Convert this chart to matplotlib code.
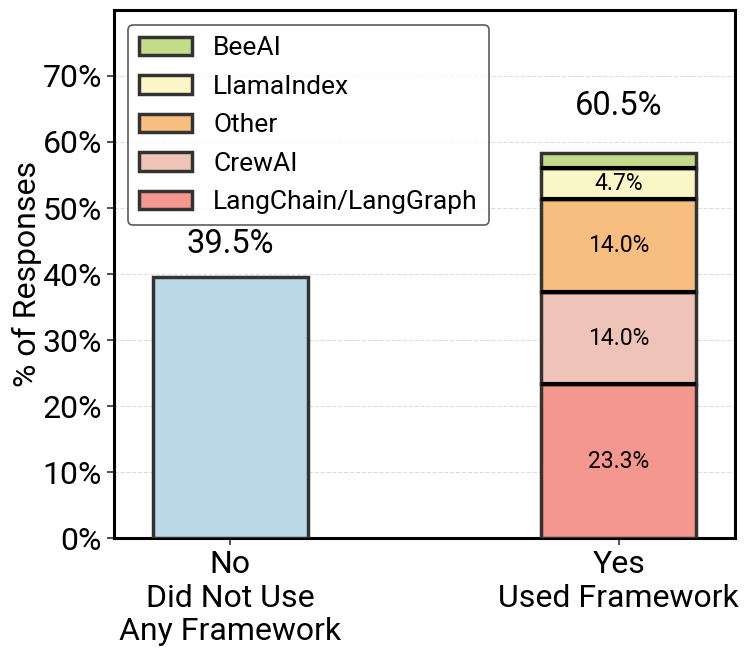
import numpy as np
import matplotlib
matplotlib.use("Agg")
import matplotlib.pyplot as plt

plt.rcParams["font.family"] = ["Roboto", "DejaVu Sans"]

# ---- data ----
categories = ["No\nDid Not Use\nAny Framework", "Yes\nUsed Framework"]
totals = [39.5, 60.5]
no_value = 39.5
frameworks = ["LangChain/LangGraph", "CrewAI", "Other", "LlamaIndex", "BeeAI"]
fw_values = [23.3, 14.0, 14.0, 4.7, 2.3]
fw_labels = ["23.3%", "14.0%", "14.0%", "4.7%", ""]

# ---- style ----
NO_COLOR = "#bcd9ea"
FW_COLORS = ["#f4978e", "#efc3b8", "#f8be80", "#faf6c6", "#c3dc8a"]
EDGE = "#333333"
WIDTH = 0.4

fig = plt.figure(figsize=(7.48, 6.58), dpi=100)
ax = fig.add_axes([0.152, 0.182, 0.831, 0.803])

x = np.arange(len(categories))
ax.bar(x[0], no_value, width=WIDTH, color=NO_COLOR, edgecolor=EDGE,
       linewidth=2.5, zorder=3)

bottom = 0.0
for name, val, col, lab in zip(frameworks, fw_values, FW_COLORS, fw_labels):
    ax.bar(x[1], val, width=WIDTH, bottom=bottom, color=col, edgecolor=EDGE,
           linewidth=2.5, label=name, zorder=3)
    if lab:
        ax.text(x[1], bottom + val / 2, lab, ha="center", va="center",
                fontsize=16.5, color="black", zorder=4)
    bottom += val

# separators between stacked segments
bottom = 0.0
for val in fw_values[:-1]:
    bottom += val
    ax.plot([x[1] - WIDTH / 2, x[1] + WIDTH / 2], [bottom, bottom],
            color="black", linewidth=3, zorder=4, solid_capstyle="butt")

for xi, t in zip(x, totals):
    ax.text(xi, t + 5, f"{t}%", ha="center", va="center", fontsize=23.5)

ax.set_xlim(-0.3, 1.3)
ax.set_ylim(0, 80)
ax.set_yticks(np.arange(0, 71, 10))
ax.set_yticklabels([f"{v}%" for v in range(0, 71, 10)])
ax.set_xticks(x)
ax.set_xticklabels(categories)
ax.tick_params(axis="both", labelsize=23, length=5, width=1.2, color="#333")
ax.set_ylabel("% of Responses", fontsize=23, labelpad=0)
ax.grid(axis="y", linestyle="--", color="#dddddd", linewidth=0.8, zorder=0)
for sp in ax.spines.values():
    sp.set_linewidth(2.2)
    sp.set_color("black")

handles, labels = ax.get_legend_handles_labels()
leg = ax.legend(handles[::-1], labels[::-1], loc="upper left", fontsize=19,
                frameon=True, edgecolor="#333333", fancybox=True,
                handlelength=2.0, labelspacing=0.55, borderpad=0.42,
                bbox_to_anchor=(0.002, 0.996))
leg.get_frame().set_linewidth(1.2)

fig.savefig("out.png", dpi=100)
